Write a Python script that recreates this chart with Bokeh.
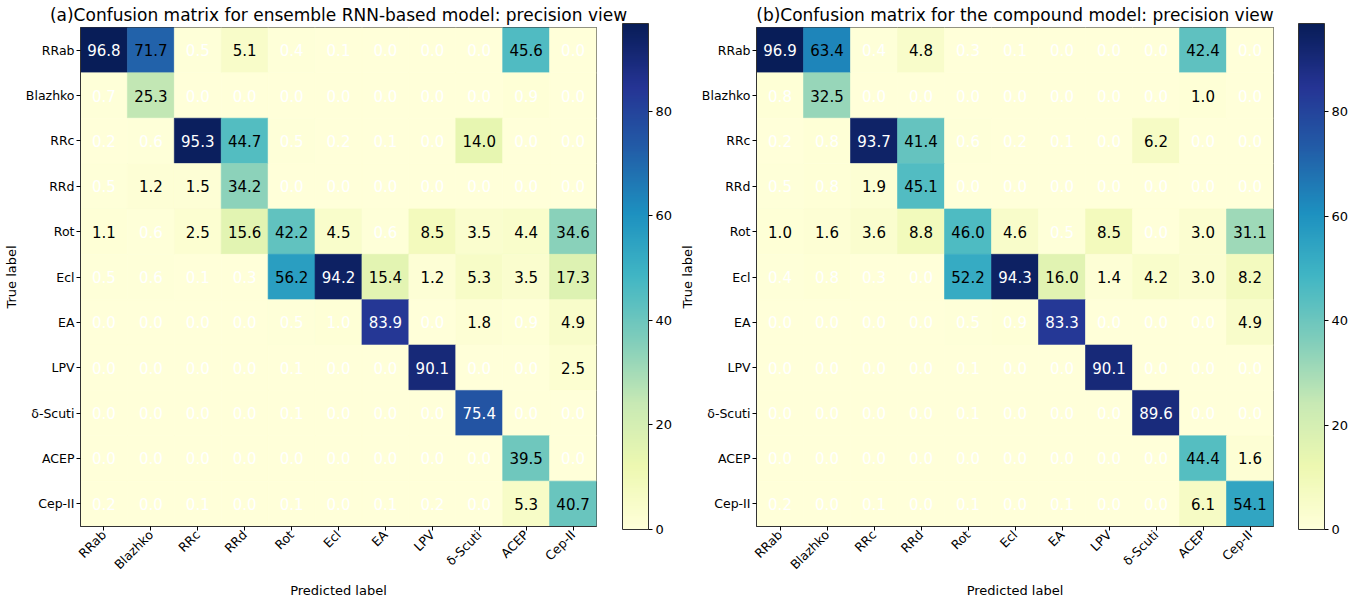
import math
import numpy as np
from bokeh.plotting import figure
from bokeh.models import LinearColorMapper, ColorBar, FixedTicker, ColumnDataSource, Range1d, Title
from bokeh.layouts import row
from bokeh.embed import file_html
from bokeh.resources import INLINE
from bokeh.core.properties import value

classes = ["RRab", "Blazhko", "RRc", "RRd", "Rot", "Ecl", "EA", "LPV", "δ-Scuti", "ACEP", "Cep-II"]

# (a) ensemble RNN-based model, precision view (rows: true label, cols: predicted label)
rnn_precision = [
    [96.8, 71.7, 0.5, 5.1, 0.4, 0.1, 0.0, 0.0, 0.0, 45.6, 0.0],
    [0.7, 25.3, 0.0, 0.0, 0.0, 0.0, 0.0, 0.0, 0.0, 0.9, 0.0],
    [0.2, 0.6, 95.3, 44.7, 0.5, 0.2, 0.1, 0.0, 14.0, 0.0, 0.0],
    [0.5, 1.2, 1.5, 34.2, 0.0, 0.0, 0.0, 0.0, 0.0, 0.0, 0.0],
    [1.1, 0.6, 2.5, 15.6, 42.2, 4.5, 0.6, 8.5, 3.5, 4.4, 34.6],
    [0.5, 0.6, 0.1, 0.3, 56.2, 94.2, 15.4, 1.2, 5.3, 3.5, 17.3],
    [0.0, 0.0, 0.0, 0.0, 0.5, 0.96, 83.9, 0.0, 1.8, 0.9, 4.9],
    [0.0, 0.0, 0.0, 0.0, 0.1, 0.0, 0.0, 90.1, 0.0, 0.0, 2.5],
    [0.0, 0.0, 0.0, 0.0, 0.1, 0.0, 0.0, 0.0, 75.4, 0.0, 0.0],
    [0.0, 0.0, 0.0, 0.0, 0.0, 0.0, 0.0, 0.0, 0.0, 39.5, 0.0],
    [0.2, 0.0, 0.1, 0.0, 0.1, 0.0, 0.1, 0.2, 0.0, 5.3, 40.7],
]

# (b) compound model, precision view
compound_precision = [
    [96.9, 63.4, 0.4, 4.8, 0.3, 0.1, 0.0, 0.0, 0.0, 42.4, 0.0],
    [0.8, 32.5, 0.0, 0.0, 0.0, 0.0, 0.0, 0.0, 0.0, 1.0, 0.0],
    [0.2, 0.8, 93.7, 41.4, 0.6, 0.2, 0.1, 0.0, 6.2, 0.0, 0.0],
    [0.5, 0.8, 1.9, 45.1, 0.0, 0.0, 0.0, 0.0, 0.0, 0.0, 0.0],
    [1.0, 1.6, 3.6, 8.8, 46.0, 4.6, 0.5, 8.5, 0.0, 3.0, 31.1],
    [0.4, 0.8, 0.3, 0.0, 52.2, 94.3, 16.0, 1.4, 4.2, 3.0, 8.2],
    [0.0, 0.0, 0.0, 0.0, 0.5, 0.9, 83.3, 0.0, 0.0, 0.0, 4.9],
    [0.0, 0.0, 0.0, 0.0, 0.1, 0.0, 0.0, 90.1, 0.0, 0.0, 0.0],
    [0.0, 0.0, 0.0, 0.0, 0.1, 0.0, 0.0, 0.0, 89.6, 0.0, 0.0],
    [0.0, 0.0, 0.0, 0.0, 0.0, 0.0, 0.0, 0.0, 0.0, 44.4, 1.6],
    [0.2, 0.0, 0.1, 0.0, 0.1, 0.0, 0.1, 0.0, 0.0, 6.1, 54.1],
]

colorbar_ticks = [0, 20, 40, 60, 80]

titles = [
    "(a)Confusion matrix for ensemble RNN-based model: precision view",
    "(b)Confusion matrix for the compound model: precision view",
]

# YlGnBu anchors, interpolated to a 256-step palette
anchors = ["#ffffd9", "#edf8b1", "#c7e9b4", "#7fcdbb", "#41b6c4",
           "#1d91c0", "#225ea8", "#253494", "#081d58"]


def build_palette(hexes, n=256):
    rgb = np.array([[int(h[i:i + 2], 16) for i in (1, 3, 5)] for h in hexes], float)
    pos = np.linspace(0, 1, len(hexes))
    out = []
    for t in np.linspace(0, 1, n):
        c = [np.interp(t, pos, rgb[:, k]) for k in range(3)]
        out.append("#%02x%02x%02x" % tuple(int(round(v)) for v in c))
    return out


palette = build_palette(anchors)
FONT = "DejaVu Sans"
FRAME_W = 519
FIG_H = 597
CBAR_H = 506


def make_panel(matrix, title, left, right):
    n = len(classes)
    xs, ys, vs, labels, tcs = [], [], [], [], []
    vmax = max(max(r) for r in matrix)
    for i in range(n):
        for j in range(n):
            v = matrix[i][j]
            xs.append(j)
            ys.append(i)
            vs.append(v)
            labels.append(f"{v:.1f}")
            tcs.append("white" if (v < 1.0 or v > 73) else "black")
    src = ColumnDataSource(dict(x=xs, y=ys, v=vs, label=labels, tc=tcs))
    mapper = LinearColorMapper(palette=palette, low=0, high=vmax)

    p = figure(width=left + FRAME_W + right, height=FIG_H,
               x_range=Range1d(-0.5, n - 0.5), y_range=Range1d(n - 0.5, -0.5),
               output_backend="svg", toolbar_location=None, title=title,
               min_border_left=left, min_border_top=0,
               min_border_bottom=0, min_border_right=right)
    p.rect(x="x", y="y", width=1, height=1, source=src,
           fill_color={"field": "v", "transform": mapper},
           line_color={"field": "v", "transform": mapper}, line_width=0.6)
    p.text(x="x", y="y", text="label", source=src, text_color="tc",
           text_align="center", text_baseline="middle",
           text_font=value(FONT), text_font_size="15px")

    p.title.text_font = FONT
    p.title.text_font_size = "17px"
    p.title.text_font_style = "normal"
    p.title.text_color = "black"
    p.title.align = "center"
    p.title.standoff = 5

    p.grid.visible = False
    p.outline_line_color = "#333333"
    p.outline_line_width = 1
    for ax in (p.xaxis, p.yaxis):
        ax.ticker = FixedTicker(ticks=list(range(n)))
        ax.major_label_overrides = {i: c for i, c in enumerate(classes)}
        ax.major_label_text_font = FONT
        ax.major_label_text_font_size = "12.5px"
        ax.major_label_text_color = "black"
        ax.axis_label_text_font = FONT
        ax.axis_label_text_font_size = "13px"
        ax.axis_label_text_font_style = "normal"
        ax.axis_label_text_color = "black"
        ax.major_tick_in = 0
        ax.major_tick_out = 4
        ax.major_tick_line_color = "black"
        ax.minor_tick_line_color = None
        ax.axis_line_color = "#333333"
        ax.major_label_standoff = 2
        ax.axis_label_standoff = 4
    p.yaxis.axis_label = "True label"
    p.xaxis.major_label_orientation = math.pi / 4

    xlab = Title(text="Predicted label", align="center", text_font=FONT,
                 text_font_size="13px", text_font_style="normal",
                 text_color="black", standoff=0, offset=0)
    p.add_layout(xlab, "below")

    cb = ColorBar(color_mapper=mapper, ticker=FixedTicker(ticks=colorbar_ticks),
                  width=26, height=CBAR_H, padding=0, margin=0,
                  major_tick_in=0, major_tick_out=4,
                  major_tick_line_color="black", label_standoff=3,
                  major_label_text_font=FONT, major_label_text_font_size="13px",
                  major_label_text_color="black",
                  bar_line_color="#333333", border_line_color=None,
                  background_fill_color=None,
                  location=(FRAME_W + 23, -3))
    p.add_layout(cb)
    return p


p1 = make_panel(rnn_precision, titles[0], 77, 80)
p2 = make_panel(compound_precision, titles[1], 78, 77)
layout = row(p1, p2)

open("out.html", "w").write(file_html(layout, INLINE))
